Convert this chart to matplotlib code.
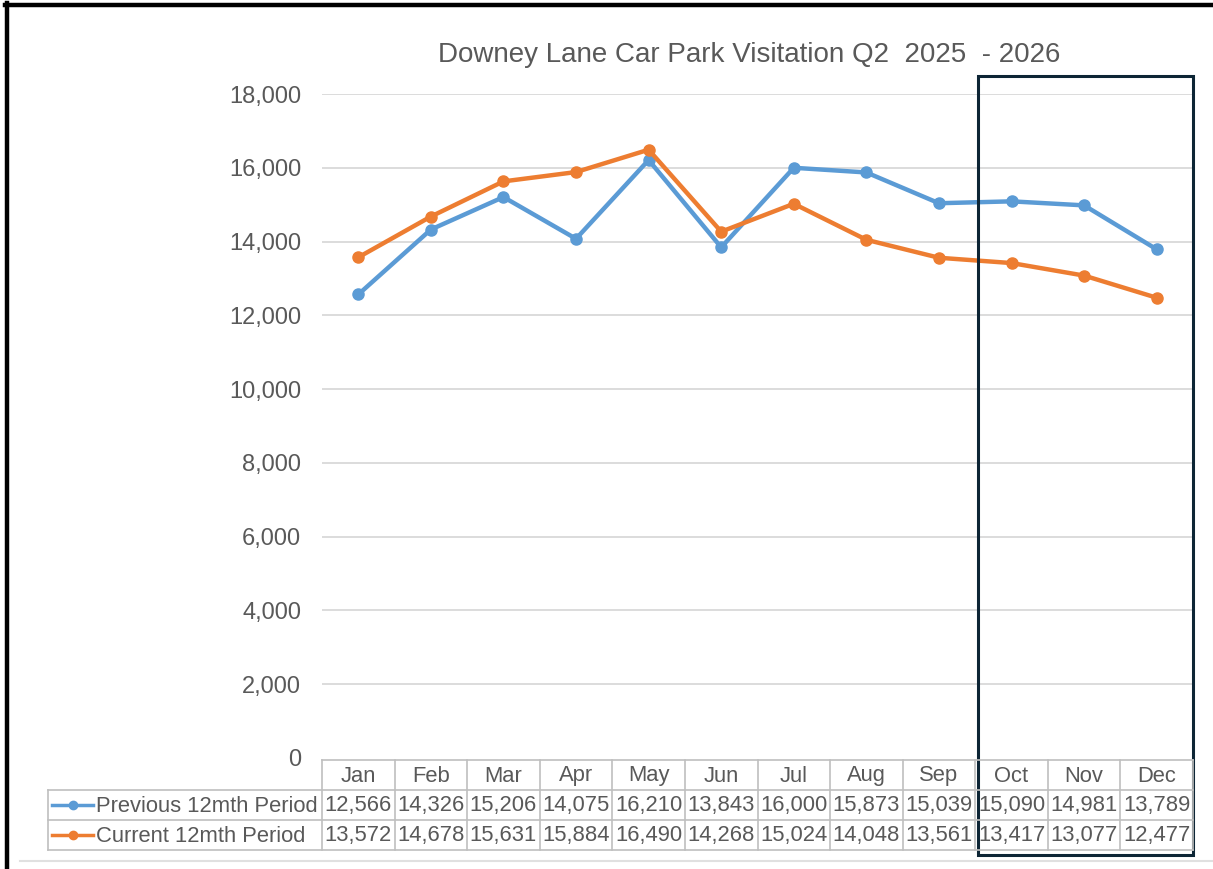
import matplotlib
matplotlib.use("Agg")
import matplotlib.pyplot as plt
from matplotlib.lines import Line2D
from matplotlib.patches import Rectangle

months = ["Jan", "Feb", "Mar", "Apr", "May", "Jun", "Jul", "Aug", "Sep", "Oct", "Nov", "Dec"]
previous = [12566, 14326, 15206, 14075, 16210, 13843, 16000, 15873, 15039, 15090, 14981, 13789]
current = [13572, 14678, 15631, 15884, 16490, 14268, 15024, 14048, 13561, 13417, 13077, 12477]
series_names = ["Previous 12mth Period", "Current 12mth Period"]
title = "Downey Lane Car Park Visitation Q2  2025  - 2026"
yticks = [0, 2000, 4000, 6000, 8000, 10000, 12000, 14000, 16000, 18000]

plt.rcParams['font.family'] = ['Liberation Sans', 'DejaVu Sans']

W, H = 1213, 869
fig = plt.figure(figsize=(W / 100, H / 100), dpi=100)

def fx(px):
    return px / W

def fy(py):
    return 1 - py / H

blue = "#5B9BD5"
orange = "#ED7D31"
grey_text = "#595959"
grid_c = "#D9D9D9"
table_c = "#BFBFBF"

left, right, top, bottom = 322, 1193, 94, 758
ax = fig.add_axes([fx(left), fy(bottom), fx(right - left), fy(top) - fy(bottom)])
x = list(range(len(months)))
ax.plot(x, previous, color=blue, lw=3.2, marker='o', ms=8, solid_joinstyle='round')
ax.plot(x, current, color=orange, lw=3.2, marker='o', ms=8, solid_joinstyle='round')
ax.set_xlim(-0.5, len(months) - 0.5)
ax.set_ylim(0, 18000)
ax.set_yticks(yticks)
ax.set_yticklabels([f"{v:,}" for v in yticks], fontsize=17, color=grey_text)
ax.tick_params(axis='y', length=0, pad=15)
ax.set_xticks([])
for s in ax.spines.values():
    s.set_visible(False)
for v in yticks[1:]:
    ax.axhline(v, color=grid_c, lw=1.3, zorder=0)

fig.text(fx(749), fy(55), title, ha='center', va='center', fontsize=20, color=grey_text)

# data table
colw = (right - left) / len(months)
row_tops = [760, 790, 820, 850]
lc = table_c
lw = 1.2
def hline(x0, x1, yy):
    fig.add_artist(Line2D([fx(x0), fx(x1)], [fy(yy), fy(yy)], color=lc, lw=lw))
def vline(xx, y0, y1):
    fig.add_artist(Line2D([fx(xx), fx(xx)], [fy(y0), fy(y1)], color=lc, lw=lw))

leg_left = 48
hline(left, right, row_tops[0])
for yy in row_tops[1:]:
    hline(leg_left, right, yy)
vline(leg_left, row_tops[1], row_tops[3])
for i in range(len(months) + 1):
    vline(left + i * colw, row_tops[0], row_tops[3])

tfs = 15.8
for i, m in enumerate(months):
    cx = left + (i + 0.5) * colw
    fig.text(fx(cx), fy(776), m, ha='center', va='center', fontsize=tfs, color=grey_text)
    fig.text(fx(cx), fy(806), f"{previous[i]:,}", ha='center', va='center', fontsize=tfs, color=grey_text)
    fig.text(fx(cx), fy(836), f"{current[i]:,}", ha='center', va='center', fontsize=tfs, color=grey_text)

for name, col, cy in [(series_names[0], blue, 806), (series_names[1], orange, 836)]:
    fig.add_artist(Line2D([fx(52), fx(93)], [fy(cy - 1), fy(cy - 1)], color=col, lw=2.5))
    fig.add_artist(Line2D([fx(72.5)], [fy(cy - 1)], color=col, marker='o', ms=6))
    fig.text(fx(96), fy(cy), name, ha='left', va='center', fontsize=tfs, color=grey_text)

# highlight box
fig.add_artist(Rectangle((fx(978), fy(855)), fx(1193 - 978), fy(76) - fy(855),
                         fill=False, edgecolor="#0D2535", lw=2.2))

# outer frame
fig.add_artist(Line2D([fx(7), fx(7)], [fy(3), fy(869)], color='black', lw=3.2))
fig.add_artist(Line2D([fx(5), fx(W)], [fy(4.5), fy(4.5)], color='black', lw=3.2))
fig.add_artist(Line2D([fx(20), fx(W)], [fy(861), fy(861)], color='#E0E0E0', lw=1.5))

fig.savefig("out.png", dpi=100)
